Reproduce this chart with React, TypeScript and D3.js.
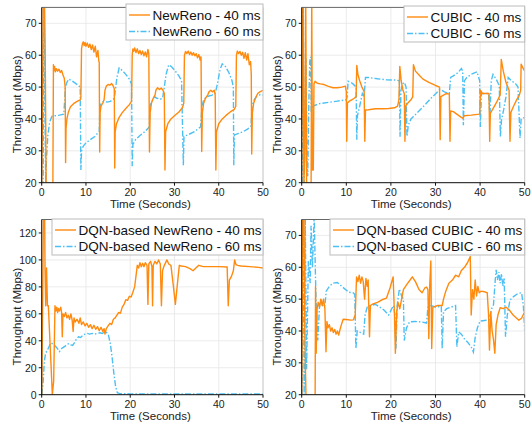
import React from 'react';
import * as d3 from 'd3';

type Pt = [number, number];

// time ticks shared by every panel
const timeTicks = [0, 10, 20, 30, 40, 50];
const tickTop = [20, 30, 40, 50, 60, 70];
const tickDqnReno = [0, 20, 40, 60, 80, 100, 120];

const legendNames = [
  ['NewReno - 40 ms', 'NewReno - 60 ms'],
  ['CUBIC - 40 ms', 'CUBIC - 60 ms'],
  ['DQN-based NewReno - 40 ms', 'DQN-based NewReno - 60 ms'],
  ['DQN-based CUBIC - 40 ms', 'DQN-based CUBIC - 60 ms'],
];

const newReno40: Pt[] = [
  [0, 20], [0.2, 45], [0.35, 80], [0.6, 80], [0.8, 60], [1.0, 20], [1.2, 15], [2.5, 12], [2.65, 57],
  [2.7, 55], [2.9, 56.5], [3.1, 54.8], [3.3, 55.8], [3.6, 55], [3.9, 55.6], [4.2, 54.6], [4.5, 55.2], [4.8, 53.8],
  [5.1, 52.8], [5.3, 50], [5.4, 26.3], [5.5, 37], [5.7, 40], [6.0, 42], [6.5, 43.8], [7.2, 44.8], [8.0, 45.5],
  [8.7, 46], [8.85, 46.5], [9.0, 62], [9.2, 63.6], [9.4, 64.2], [9.6, 63], [9.8, 64], [10.0, 62.8], [10.3, 63.8],
  [10.6, 62.5], [10.9, 63.5], [11.2, 61.8], [11.5, 63.2], [11.8, 61], [12.1, 62.8], [12.4, 59.5], [12.7, 61.5],
  [12.9, 58.2], [13.0, 57.8], [13.1, 29.6], [13.2, 42], [13.4, 44], [13.8, 45], [14.1, 46], [14.3, 49], [14.6, 50.3],
  [15.0, 50.8], [15.4, 50.6], [15.8, 51.1], [16.1, 50.5], [16.4, 49.5], [16.5, 24.6], [16.6, 36], [16.9, 38.5],
  [17.5, 40.5], [18.2, 42], [19.0, 43.3], [19.8, 44.5], [20.3, 45.5], [20.45, 60], [20.6, 62], [20.8, 61.2],
  [21.0, 62.3], [21.3, 60.8], [21.6, 62], [21.9, 60.5], [22.2, 61.5], [22.5, 60.2], [22.8, 61.3], [23.1, 59.8],
  [23.4, 61], [23.7, 59.5], [24.0, 61.8], [24.2, 60.5], [24.35, 29.6], [24.5, 42], [24.8, 45], [25.2, 46.5],
  [25.6, 47.5], [25.8, 49], [26.2, 49.8], [26.6, 49.2], [27.0, 49.7], [27.4, 49], [27.7, 48], [27.85, 24],
  [28.0, 36], [28.5, 38.5], [29.2, 40], [30.0, 41], [31.0, 42.2], [31.8, 43.5], [32.1, 45], [32.25, 60],
  [32.5, 61.2], [32.8, 60.5], [33.1, 61.3], [33.4, 60.2], [33.7, 61], [34.0, 60], [34.3, 60.8], [34.6, 59.8],
  [34.9, 60.5], [35.2, 59.2], [35.5, 60.2], [35.8, 58.5], [36.0, 59.5], [36.15, 29.8], [36.3, 42], [36.6, 45],
  [37.0, 46.5], [37.5, 47.5], [37.8, 48.5], [38.2, 49], [38.6, 48.5], [39.0, 49], [39.2, 47.5], [39.35, 24],
  [39.5, 36], [40.0, 38.5], [40.8, 40], [41.7, 41.2], [42.6, 42.2], [43.5, 43], [43.85, 44], [44.0, 60],
  [44.2, 61.3], [44.5, 60.5], [44.8, 61.2], [45.1, 60], [45.4, 60.9], [45.7, 59], [46.0, 60.8], [46.3, 58.5],
  [46.6, 60.5], [46.9, 57], [47.2, 58], [47.35, 54], [47.45, 29], [47.6, 42], [47.9, 45], [48.3, 46.5],
  [48.8, 48], [49.3, 48.5], [50, 49],
];

const newReno60: Pt[] = [
  [0.3, 15], [0.55, 80], [0.75, 40], [0.9, 20], [1.1, 28], [1.4, 35], [1.8, 39], [2.3, 40.8], [3, 41], [4, 41.2],
  [5.0, 41.5], [5.2, 46], [5.35, 50], [5.7, 51.5], [6.1, 52.5], [6.8, 52], [7.5, 51.3], [8.2, 50.6], [8.7, 50],
  [8.85, 24], [9.0, 30], [9.4, 31.5], [10.0, 32.5], [11.0, 33.5], [12.0, 34.5], [12.8, 35.8], [13.0, 36],
  [13.15, 44], [13.5, 45], [14.0, 45.5], [14.8, 45.3], [15.5, 45.5], [16.2, 46.2], [16.5, 47.5], [17.0, 53],
  [17.5, 56], [18.2, 55.2], [19.0, 54], [19.8, 52.5], [20.3, 51], [20.45, 25.2], [20.6, 32], [21.2, 33.5],
  [22.2, 34.8], [23.3, 36], [24.3, 37.5], [24.45, 44], [24.9, 45.5], [25.5, 47], [26.0, 46.5], [26.8, 46.2],
  [27.3, 46.5], [27.6, 49], [28.1, 54], [28.7, 57], [29.4, 56.3], [30.2, 55], [31.0, 53.5], [31.6, 52],
  [32.0, 25.5], [32.15, 34.5], [33.0, 35], [34.5, 36], [35.9, 37.5], [36.2, 44], [36.6, 46], [37.3, 47],
  [38.5, 47.5], [39.2, 48], [39.7, 51], [40.3, 55.5], [40.8, 57.3], [41.5, 56.5], [42.3, 54.5], [43.0, 52],
  [43.3, 50], [43.4, 25.5], [43.55, 35], [44.5, 35.5], [45.5, 36], [46.5, 36.8], [47.3, 37.8], [47.5, 44],
  [48.0, 46], [48.6, 47.2], [49.3, 47.6], [50, 47.5],
];

const cubic40: Pt[] = [
  [0, 20], [0.15, 70], [0.3, 80], [0.5, 20], [0.7, 30], [0.9, 80], [1.1, 20], [1.4, 15], [2.1, 15], [2.25, 80],
  [2.4, 24], [2.6, 24], [2.75, 51], [3.0, 51.8], [3.5, 51.2], [4.2, 51], [5.0, 50.8], [6.0, 50.2], [7.0, 49.8],
  [8.0, 49.8], [9.0, 50], [9.8, 50.3], [10.0, 48.5], [10.1, 33], [10.25, 45], [10.6, 45.5], [11.2, 46],
  [11.8, 46.5], [12.2, 47], [12.35, 56.8], [12.6, 54], [13.0, 52], [13.5, 50], [14.0, 48.6], [14.15, 33],
  [14.3, 42.8], [15, 42.9], [16.5, 43.2], [18, 43.2], [19.5, 43.3], [20.8, 43.5], [21.5, 44], [21.8, 46],
  [22.0, 56.5], [22.3, 52], [22.7, 49], [23.0, 48], [23.15, 33], [23.3, 44], [23.8, 45], [24.5, 46], [24.9, 47],
  [25.05, 57], [25.5, 55], [26.3, 53.8], [27.2, 52.5], [28.5, 51.5], [30, 50.5], [30.9, 50], [31.05, 33.5],
  [31.2, 47], [31.8, 47.5], [32.5, 48], [33.1, 47.8], [33.25, 33], [33.4, 42.5], [34, 42.3], [35, 41.3],
  [35.8, 40.5], [36.2, 40.2], [36.4, 41], [38, 41.2], [39.9, 41.5], [40.1, 49], [40.5, 48], [41, 48], [42, 48],
  [42.15, 33], [42.3, 41.8], [43, 43.5], [43.8, 45.5], [44.5, 47.5], [44.75, 58.7], [45.2, 55], [45.8, 51.5],
  [46.5, 49], [46.7, 33], [46.9, 42], [47.5, 44], [48.2, 46], [48.8, 47.5], [49.1, 49], [49.2, 57.2],
  [49.6, 56], [50, 55],
];

const cubic60: Pt[] = [
  [0.1, 20], [0.35, 80], [0.55, 20], [0.8, 40], [0.95, 59], [1.15, 30], [1.35, 22], [1.6, 45], [1.8, 58],
  [2.0, 59.5], [2.15, 42], [2.4, 43.5], [2.8, 44.2], [4, 44.8], [6, 45.2], [8, 45.6], [10, 46], [10.2, 47],
  [10.4, 51.8], [11, 51.5], [11.5, 51], [12.2, 50], [12.35, 33.5], [12.5, 41], [13.0, 44], [13.6, 48], [14.0, 47],
  [14.3, 53], [15, 53], [17, 52.6], [19, 52.3], [21, 52.2], [21.9, 52], [22.05, 34.4], [22.25, 49], [22.6, 51],
  [23.0, 51.5], [23.4, 50], [23.6, 34.5], [23.9, 38], [24.5, 40], [25, 40.7], [27, 43.5], [29, 46.5], [31, 49.3],
  [32, 48.5], [33.1, 48], [33.4, 53], [34, 53.5], [35, 54.5], [35.8, 55.8], [36.1, 55], [36.25, 38], [36.5, 52],
  [37, 53], [38, 54], [39.3, 54.8], [39.9, 52], [40.05, 37.5], [40.3, 48], [41, 48], [41.9, 48], [42.2, 41],
  [42.5, 52], [42.9, 54], [43.6, 52.5], [44.3, 50.5], [44.55, 34.5], [44.8, 39.7], [45.3, 43], [45.8, 47],
  [46.3, 53], [47, 52], [48, 51], [48.5, 50], [48.95, 34], [49.2, 40], [50, 40.5],
];

const dqnReno40: Pt[] = [
  [0, 0], [0.2, 60], [0.4, 140], [0.65, 140], [0.75, 94], [0.9, 66], [1.1, 94], [1.3, 66], [1.5, 66], [2.0, 30],
  [2.4, 0], [2.7, 10], [3.0, 66], [3.2, 62], [3.4, 65], [3.6, 61], [3.8, 64], [4.0, 62], [4.3, 65], [4.5, 61],
  [4.65, 43], [4.8, 60], [5.1, 58], [5.4, 61], [5.7, 57], [6.0, 59], [6.3, 56], [6.6, 60], [6.9, 55], [7.1, 47],
  [7.3, 57], [7.6, 54], [8.0, 56], [8.4, 53], [8.7, 57], [9.0, 52], [9.4, 54], [9.8, 51], [10.2, 53], [10.6, 50],
  [11.0, 52], [11.4, 49], [11.8, 51.5], [12.2, 48.5], [12.6, 50.5], [13.0, 47.5], [13.4, 50], [13.8, 47],
  [14.1, 49], [14.3, 45], [14.6, 49], [15.0, 51], [15.4, 53], [15.8, 52], [16.2, 56], [16.6, 57], [17.0, 59],
  [17.4, 61], [17.8, 60.5], [18.2, 65], [18.6, 67], [19.0, 70.5], [19.4, 70], [19.8, 73], [20.2, 72.5],
  [20.6, 76], [21.0, 80], [21.3, 88], [21.6, 96], [21.9, 94], [22.2, 98], [22.5, 95], [22.8, 97.5], [23.1, 95],
  [23.4, 98], [23.8, 96], [24.0, 67], [24.2, 97], [24.6, 99], [24.9, 95], [25.05, 66], [25.2, 96], [25.6, 99],
  [26.0, 97], [26.4, 100], [26.8, 97], [27.05, 66], [27.3, 92], [27.7, 96], [28.3, 100], [28.7, 97], [29.2, 96],
  [29.7, 82], [30.2, 67], [30.9, 90], [31.1, 96], [31.5, 95.5], [32.5, 95], [33.5, 93.5], [34.2, 92],
  [35.0, 94.5], [35.5, 96], [36.5, 95], [38, 95], [40, 95], [41.9, 94.8], [42.15, 66], [42.4, 85], [42.9, 88],
  [43.3, 92], [43.6, 100], [43.9, 96.5], [44.3, 96], [45, 95.5], [47, 95], [49, 94.5], [50, 94],
];

const dqnReno60: Pt[] = [
  [0, 0], [0.3, 8], [0.6, 25], [0.9, 31], [1.3, 33], [1.7, 36], [2.1, 38.5], [2.6, 37.5], [3.1, 36], [3.5, 34.5],
  [4.0, 32], [4.4, 34], [4.8, 35], [5.3, 36], [5.8, 37.5], [6.2, 38], [6.6, 37], [7.0, 36.5], [7.3, 38], [7.8, 41],
  [8.3, 43], [8.8, 42.5], [9.3, 44], [9.8, 45], [10.3, 45.5], [10.8, 45], [11.4, 45.5], [12, 45], [12.6, 45.5],
  [13.2, 46], [13.7, 45.5], [14.2, 46.5], [14.7, 46], [15.1, 44], [15.5, 38], [15.9, 28], [16.3, 16], [16.7, 6],
  [17.1, 1.5], [17.6, 0.8], [20, 0.6], [30, 0.5], [40, 0.5], [50, 0.5],
];

const dqnCubic40: Pt[] = [
  [0, 20], [0.1, 40], [0.25, 80], [0.5, 80], [0.7, 40], [0.95, 20], [1.2, 15], [3.0, 15], [3.1, 54], [3.25, 33],
  [3.45, 47], [3.7, 49], [4.0, 47.5], [4.3, 50], [4.6, 48], [4.9, 50], [5.2, 47], [5.45, 33.5], [5.65, 43],
  [5.9, 41], [6.2, 42], [6.5, 40], [6.8, 41], [7.1, 39.5], [7.4, 40.5], [7.7, 39], [8.0, 40], [8.3, 38.7],
  [8.6, 40.5], [8.9, 42], [9.3, 43.7], [10, 43.6], [11, 43.4], [11.6, 43.5], [12.0, 45], [12.3, 57], [12.6, 55.5],
  [12.9, 57.5], [13.2, 55], [13.5, 57], [13.8, 55.5], [14.1, 50], [14.4, 56.5], [14.7, 54], [14.9, 56],
  [15.2, 38.2], [15.4, 48], [16, 48.5], [17, 49], [18, 49.8], [19, 50.3], [19.8, 53.5], [20.5, 57], [20.8, 45],
  [21.0, 33], [21.3, 46], [21.6, 49], [22.0, 47], [22.4, 50], [22.8, 53], [23.5, 54.5], [24.3, 56], [24.8, 57],
  [25.5, 55.5], [26.3, 53], [27.0, 52], [27.6, 53.5], [28.0, 53.8], [28.3, 53], [28.5, 37.6], [28.7, 54],
  [28.95, 62], [29.15, 34.5], [29.4, 47.5], [30.5, 48], [31.5, 48], [31.8, 50], [32.3, 52.5], [33.0, 55],
  [33.8, 56], [34.5, 57.5], [35.2, 57], [35.8, 59], [36.5, 60], [37.2, 61.5], [37.8, 63.4], [38.0, 45],
  [38.3, 53], [38.6, 50], [38.9, 56], [39.2, 51], [39.5, 54], [39.8, 52], [40.2, 52.5], [41.0, 52.3], [41.6, 52],
  [41.9, 45], [42.1, 34], [42.4, 46], [42.7, 40], [43.0, 37.3], [43.3, 33], [43.6, 42], [44.0, 45], [44.5, 47.3],
  [45.2, 47], [45.8, 47.5], [46.6, 46.5], [47.4, 45], [48.2, 44], [48.7, 43.4], [49.3, 44], [50, 46],
];

const dqnCubic60: Pt[] = [
  [0, 20], [0.35, 72], [0.55, 20], [0.8, 75], [1.1, 28], [1.5, 62], [1.9, 55], [2.1, 73], [2.4, 60], [2.8, 76],
  [3.2, 50], [3.6, 37], [4.0, 48], [4.3, 50], [4.8, 47.5], [5.2, 48], [5.5, 52.5], [6.2, 54], [7.0, 55],
  [8.0, 55.2], [9.0, 54], [10.5, 52.2], [11.5, 52], [11.9, 51.5], [12.15, 34.5], [12.45, 40], [13.2, 39.5],
  [13.9, 39], [14.2, 45], [14.7, 47.5], [15.5, 48], [16.5, 48.4], [17.5, 47.5], [18.5, 46.5], [19.5, 45],
  [20.2, 47], [20.6, 48], [20.9, 45], [21.15, 34.5], [21.4, 48], [21.9, 53.2], [22.4, 51], [22.8, 50], [23.0, 37],
  [23.5, 41], [24.2, 42.9], [25.5, 43], [27, 42.8], [28.0, 42.5], [28.3, 47.5], [29, 48], [30, 47.5], [31.3, 47.8],
  [31.5, 34.5], [31.8, 46], [32.5, 47], [33.5, 47.5], [34.5, 48], [34.8, 35], [35.2, 39.7], [35.8, 39],
  [36.5, 37.5], [37.2, 36.5], [38, 35], [38.5, 33.4], [38.9, 38], [39.4, 41], [40, 43.1], [41, 43.3], [42, 43.5],
  [42.6, 47], [43.0, 48.2], [43.4, 56], [43.6, 59.2], [43.9, 56], [44.2, 58.5], [44.5, 55], [44.8, 58], [45.1, 54],
  [45.4, 56.5], [45.7, 38.2], [46.1, 45], [46.7, 49.7], [47.5, 50.8], [48.5, 51.8], [49.3, 52], [49.7, 48],
  [50, 40],
];

const ORANGE = '#ff8a0d';
const BLUE = '#4cc0f5';
const FONT = '"Liberation Sans", Arial, sans-serif';

const panels = [
  { x0: 41.7, x1: 263, y0: 7.4, y1: 182.7, yDom: [20, 75], yTicks: tickTop, s40: newReno40, s60: newReno60, legend: legendNames[0], legX: 126, legY: 4 },
  { x0: 301.7, x1: 524.7, y0: 7.4, y1: 182.7, yDom: [20, 75], yTicks: tickTop, s40: cubic40, s60: cubic60, legend: legendNames[1], legX: 404, legY: 6 },
  { x0: 41.7, x1: 263, y0: 219.5, y1: 394.7, yDom: [0, 130], yTicks: tickDqnReno, s40: dqnReno40, s60: dqnReno60, legend: legendNames[2], legX: 52, legY: 219 },
  { x0: 301.7, x1: 524.7, y0: 219.5, y1: 394.7, yDom: [20, 75], yTicks: tickTop, s40: dqnCubic40, s60: dqnCubic60, legend: legendNames[3], legX: 330, legY: 219 },
];

function Panel({ p, idx }: { p: typeof panels[number]; idx: number }) {
  const x = d3.scaleLinear().domain([0, 50]).range([p.x0, p.x1]);
  const y = d3.scaleLinear().domain(p.yDom).range([p.y1, p.y0]);
  const line = d3.line<Pt>().x(d => x(d[0])).y(d => y(d[1]));
  const clipId = `clip-${idx}`;
  const midY = p.y0 + 97;

  return (
    <g>
      <defs>
        <clipPath id={clipId}>
          <rect x={p.x0} y={p.y0} width={p.x1 - p.x0} height={p.y1 - p.y0} />
        </clipPath>
      </defs>
      {/* grid */}
      {timeTicks.map(t => (
        <line key={'gx' + t} x1={x(t)} x2={x(t)} y1={p.y0} y2={p.y1} stroke="#e6e6e6" strokeWidth={0.8} />
      ))}
      {p.yTicks.map(t => (
        <line key={'gy' + t} x1={p.x0} x2={p.x1} y1={y(t)} y2={y(t)} stroke="#e6e6e6" strokeWidth={0.8} />
      ))}
      {/* series */}
      <g clipPath={`url(#${clipId})`}>
        <path d={line(p.s60) || ''} fill="none" stroke={BLUE} strokeWidth={1.4} strokeDasharray="6,2,1.5,2" />
        <path d={line(p.s40) || ''} fill="none" stroke={ORANGE} strokeWidth={1.4} strokeLinejoin="round" />
      </g>
      {/* frame */}
      <line x1={p.x0} x2={p.x1} y1={p.y0} y2={p.y0} stroke="#666" strokeWidth={1} />
      <line x1={p.x1} x2={p.x1} y1={p.y0} y2={p.y1} stroke="#ccc" strokeWidth={1} />
      <line x1={p.x0} x2={p.x0} y1={p.y0} y2={p.y1 + 0.5} stroke="#111" strokeWidth={1} />
      <line x1={p.x0 - 0.5} x2={p.x1} y1={p.y1} y2={p.y1} stroke="#111" strokeWidth={1} />
      {/* x axis */}
      {timeTicks.map(t => (
        <g key={'tx' + t}>
          <line x1={x(t)} x2={x(t)} y1={p.y1} y2={p.y1 + 3} stroke="#111" />
          <text x={x(t)} y={p.y1 + 13.5} textAnchor="middle" fontSize={10.5} fontFamily={FONT} fill="#222">{t}</text>
        </g>
      ))}
      {/* y axis */}
      {p.yTicks.map(t => (
        <g key={'ty' + t}>
          <line x1={p.x0 - 3} x2={p.x0} y1={y(t)} y2={y(t)} stroke="#111" />
          <text x={p.x0 - 5} y={y(t) + 3.8} textAnchor="end" fontSize={10.5} fontFamily={FONT} fill="#222">{t}</text>
        </g>
      ))}
      <text x={(p.x0 + p.x1) / 2 - 2} y={p.y1 + 25.5} textAnchor="middle" fontSize={11.5} fontFamily={FONT} fill="#222">Time (Seconds)</text>
      <text transform={`translate(${p.x0 - 20.5},${midY}) rotate(-90)`} textAnchor="middle" fontSize={11.5} fontFamily={FONT} fill="#222">Throughput (Mbps)</text>
      {/* legend */}
      <rect x={p.legX} y={p.legY} width={p.x1 - p.legX} height={36} fill="#fff" stroke="#bbb" strokeWidth={1} />
      {p.legend.map((name, i) => (
        <g key={name}>
          <line x1={p.legX + 3} x2={p.legX + 24} y1={p.legY + 11 + i * 16.5} y2={p.legY + 11 + i * 16.5}
            stroke={i === 0 ? ORANGE : BLUE} strokeWidth={1.4} strokeDasharray={i === 0 ? undefined : '6,2,1.5,2'} />
          <text x={p.legX + 26.5} y={p.legY + 15.8 + i * 16.5} fontSize={13.5} fontFamily={FONT} fill="#111">{name}</text>
        </g>
      ))}
    </g>
  );
}

export default function App() {
  return (
    <svg width={532} height={424} style={{ position: 'absolute', left: 0, top: 0, background: '#fff' }}>
      {panels.map((p, i) => <Panel key={i} p={p} idx={i} />)}
    </svg>
  );
}
